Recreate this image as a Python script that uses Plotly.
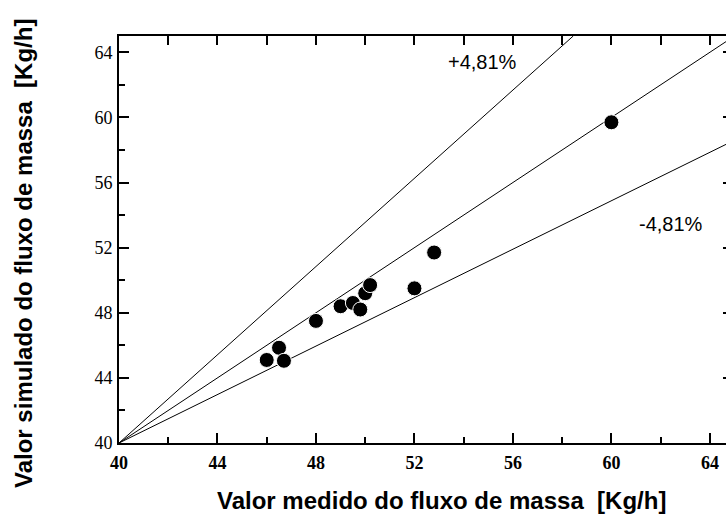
import plotly.graph_objects as go

# ---- data ----
measured = [46.0, 46.5, 46.7, 48.0, 49.0, 49.5, 49.8, 50.0, 50.2, 52.0, 52.8, 60.0]
simulated = [45.1, 45.85, 45.05, 47.5, 48.4, 48.6, 48.2, 49.2, 49.7, 49.5, 51.7, 59.7]

ref_line_x = [40, 65]
ref_line_y = [40, 65]
upper_line_x = [40, 58.45]
upper_line_y = [40, 65]
lower_line_x = [40, 65]
lower_line_y = [40, 58.6]

upper_label = "+4,81%"
lower_label = "-4,81%"
x_title = "Valor medido do fluxo de massa \u00a0[Kg/h]"
y_title = "Valor simulado do fluxo de massa \u00a0[Kg/h]"

W, H = 726, 515
L, R, T, B = 119, 0, 36, 72
PX_PER_X = 24.62
x_range = [40, 40 + (W - L - R) / PX_PER_X]
y_range = [40, 65]

def px_to_paper_x(px):
    return (px - L) / (W - L - R)

def px_to_paper_y(py):
    return (H - B - py) / (H - T - B)

fig = go.Figure()

line_style = dict(color="black", width=1)
for xs, ys in [(ref_line_x, ref_line_y), (upper_line_x, upper_line_y), (lower_line_x, lower_line_y)]:
    fig.add_trace(go.Scatter(x=xs, y=ys, mode="lines", line=line_style,
                             hoverinfo="skip", showlegend=False, cliponaxis=True))

fig.add_trace(go.Scatter(x=measured, y=simulated, mode="markers",
                         marker=dict(size=15, color="black", line=dict(color="white", width=1)),
                         showlegend=False))

# dummy trace for the mirrored top/right axes
fig.add_trace(go.Scatter(x=[None], y=[None], xaxis="x2", yaxis="y2", showlegend=False,
                         hoverinfo="skip"))

serif = "Liberation Serif"
sans = "Liberation Sans"

fig.update_layout(
    width=W, height=H,
    margin=dict(l=L, r=R, t=T, b=B, pad=0),
    paper_bgcolor="white", plot_bgcolor="white",
    showlegend=False,
    font=dict(family=sans, color="black"),
    xaxis=dict(
        range=x_range, showgrid=False, zeroline=False,
        showline=True, linecolor="black", linewidth=2,
        ticks="inside", ticklen=10, tickwidth=1.5, tickcolor="black",
        tick0=40, dtick=4,
        minor=dict(ticks="inside", ticklen=6, tickwidth=1.5, tickcolor="black", dtick=2, tick0=40, showgrid=False),
        tickfont=dict(family=serif, size=18, color="black", weight="bold"),
        ticklabelstandoff=2,
        anchor="y",
    ),
    yaxis=dict(
        range=y_range, showgrid=False, zeroline=False,
        showline=True, linecolor="black", linewidth=2,
        ticks="inside", ticklen=10, tickwidth=1.5, tickcolor="black",
        tick0=40, dtick=4,
        minor=dict(ticks="inside", ticklen=6, tickwidth=1.5, tickcolor="black", dtick=2, tick0=40, showgrid=False),
        tickfont=dict(family=serif, size=18, color="black"),
        ticklabelstandoff=1,
        anchor="x",
    ),
    xaxis2=dict(
        overlaying="x", side="top", anchor="y2", range=x_range,
        showgrid=False, zeroline=False,
        showline=True, linecolor="black", linewidth=2,
        ticks="inside", ticklen=9, tickwidth=1.5, tickcolor="black",
        tick0=40, dtick=2, showticklabels=False,
    ),
    yaxis2=dict(
        overlaying="y", side="right", anchor="x2", range=y_range,
        showgrid=False, zeroline=False, showline=False,
        ticks="inside", ticklen=3, tickwidth=1.5, tickcolor="black",
        tick0=40, dtick=4, showticklabels=False,
    ),
    annotations=[
        dict(text=upper_label, x=px_to_paper_x(482.5), y=px_to_paper_y(62), xref="paper", yref="paper",
             xanchor="center", yanchor="middle",
             showarrow=False, font=dict(family=sans, size=20, color="black")),
        dict(text=lower_label, x=px_to_paper_x(671), y=px_to_paper_y(223.5), xref="paper", yref="paper",
             xanchor="center", yanchor="middle",
             showarrow=False, font=dict(family=sans, size=20, color="black")),
        dict(text=x_title, x=px_to_paper_x(441.5), y=px_to_paper_y(500), xref="paper", yref="paper",
             xanchor="center", yanchor="middle",
             showarrow=False, font=dict(family=sans, size=24, color="black", weight="bold")),
        dict(text=y_title, x=px_to_paper_x(23), y=px_to_paper_y(254), xref="paper", yref="paper",
             xanchor="center", yanchor="middle",
             showarrow=False, textangle=-90, font=dict(family=sans, size=24, color="black", weight="bold")),
    ],
)

fig.write_html("out.html")
